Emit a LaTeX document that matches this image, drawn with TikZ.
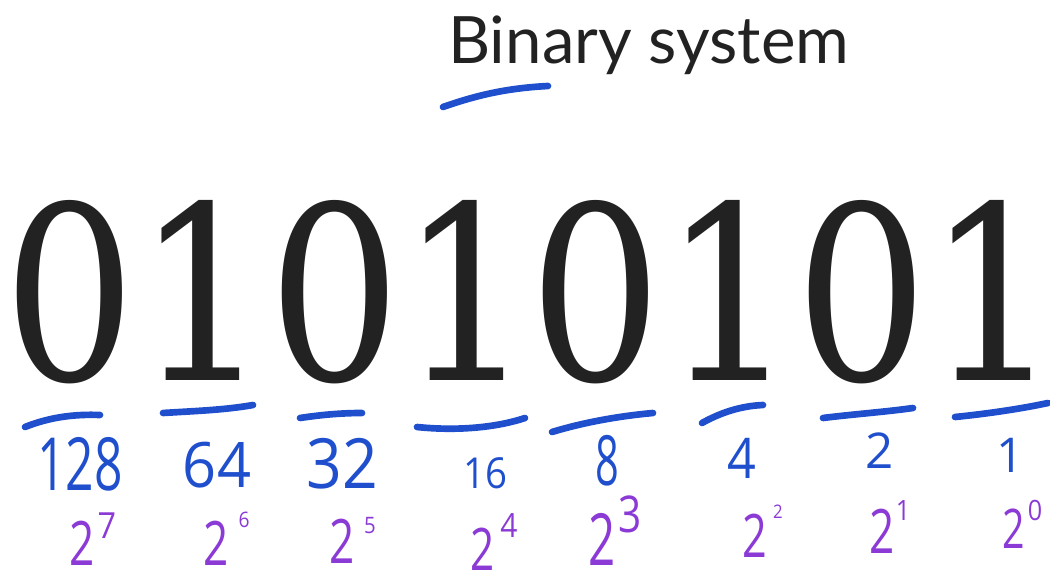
\documentclass[tikz,border=0pt]{standalone}
\usepackage{fontspec}
\newfontfamily\digitfont{DejaVu Serif}
\newfontfamily\titlefont{Lato}
\newfontfamily\handfont{Open Sans}
\definecolor{inkdark}{HTML}{222222}
\definecolor{penblue}{HTML}{1F4FCC}
\definecolor{penpurple}{HTML}{8B3AD6}
\newcommand{\hwtext}[3]{\scalebox{#1}[1]{\fontsize{#2}{#2}\selectfont #3}}
\tikzset{
  bigdigit/.style={anchor=base, inner sep=0pt, text=inkdark, font=\digitfont\fontsize{182pt}{182pt}\selectfont},
  bluenum/.style={anchor=base, inner sep=0pt, text=penblue, font=\handfont},
  purpnum/.style={anchor=base, inner sep=0pt, text=penpurple, font=\handfont},
  penstroke/.style={draw=penblue, line width=5pt, line cap=round},
}
\begin{document}
\begin{tikzpicture}[x=0.75pt, y=-0.75pt]
\useasboundingbox (0,0) rectangle (1050,574);
% title
\node[anchor=base west, inner sep=0pt, text=inkdark, font=\titlefont\fontsize{49pt}{49pt}\selectfont] (title) at (448,64) {Binary system};
\draw[penstroke] (443,107) .. controls (480,94) and (510,88) .. (548,86);
% big digits
\node[bigdigit] (b7) at (70,380) {\scalebox{0.86}[1]{0}};
\node[bigdigit] (b6) at (203,380) {\scalebox{0.86}[1]{1}};
\node[bigdigit] (b5) at (335,380) {\scalebox{0.86}[1]{0}};
\node[bigdigit] (b4) at (467,380) {\scalebox{0.86}[1]{1}};
\node[bigdigit] (b3) at (596,380) {\scalebox{0.86}[1]{0}};
\node[bigdigit] (b2) at (730,380) {\scalebox{0.86}[1]{1}};
\node[bigdigit] (b1) at (862,380) {\scalebox{0.86}[1]{0}};
\node[bigdigit] (b0) at (994,380) {\scalebox{0.86}[1]{1}};
% dashes
\draw[penstroke] (25,427) .. controls (50,417) and (75,414) .. (100,415);
\draw[penstroke] (163,413) .. controls (195,411) and (225,410) .. (253,405);
\draw[penstroke] (300,418) .. controls (320,415) and (340,413) .. (362,413);
\draw[penstroke] (417,427) .. controls (455,431) and (495,428) .. (525,418);
\draw[penstroke] (552,432) .. controls (585,422) and (620,416) .. (653,413);
\draw[penstroke] (702,423) .. controls (720,413) and (740,406) .. (763,405);
\draw[penstroke] (823,418) .. controls (855,414) and (885,412) .. (913,408);
\draw[penstroke] (955,417) .. controls (985,414) and (1020,409) .. (1048,403);
% blue values
\node[bluenum] (v7) at (80,490) {\hwtext{0.68}{55pt}{128}};
\node[bluenum] (v6) at (217,487) {\hwtext{0.95}{47pt}{64}};
\node[bluenum] (v5) at (342,488) {\hwtext{0.9}{52pt}{32}};
\node[bluenum] (v4) at (485,488) {\hwtext{0.9}{32pt}{16}};
\node[bluenum] (v3) at (607,485) {\hwtext{0.6}{52pt}{8}};
\node[bluenum] (v2) at (742,478) {\hwtext{0.9}{42pt}{4}};
\node[bluenum] (v1) at (880,468) {\hwtext{1}{37pt}{2}};
\node[bluenum] (v0) at (1010,472) {\hwtext{1}{36pt}{1}};
% purple powers
\node[purpnum] (p7) at (82,565) {\hwtext{0.72}{46pt}{2}};
\node[purpnum] (e7) at (107,538) {\hwtext{0.9}{27pt}{7}};
\node[purpnum] (p6) at (216,565) {\hwtext{0.72}{46pt}{2}};
\node[purpnum] (e6) at (244,527) {\hwtext{0.9}{16pt}{6}};
\node[purpnum] (p5) at (342,563) {\hwtext{0.72}{46pt}{2}};
\node[purpnum] (e5) at (370,533) {\hwtext{0.9}{17pt}{5}};
\node[purpnum] (p4) at (483,570) {\hwtext{0.72}{44pt}{2}};
\node[purpnum] (e4) at (509,537) {\hwtext{0.9}{25pt}{4}};
\node[purpnum] (p3) at (602,565) {\hwtext{0.66}{54pt}{2}};
\node[purpnum] (e3) at (630,532) {\hwtext{0.8}{38pt}{3}};
\node[purpnum] (p2) at (755,557) {\hwtext{0.72}{45pt}{2}};
\node[purpnum] (e2) at (778,518) {\hwtext{0.9}{14pt}{2}};
\node[purpnum] (p1) at (882,553) {\hwtext{0.72}{46pt}{2}};
\node[purpnum] (e1) at (903,520) {\hwtext{0.9}{21pt}{1}};
\node[purpnum] (p0) at (1014,548) {\hwtext{0.72}{41pt}{2}};
\node[purpnum] (e0) at (1035,520) {\hwtext{0.9}{21pt}{0}};
\end{tikzpicture}
\end{document}
